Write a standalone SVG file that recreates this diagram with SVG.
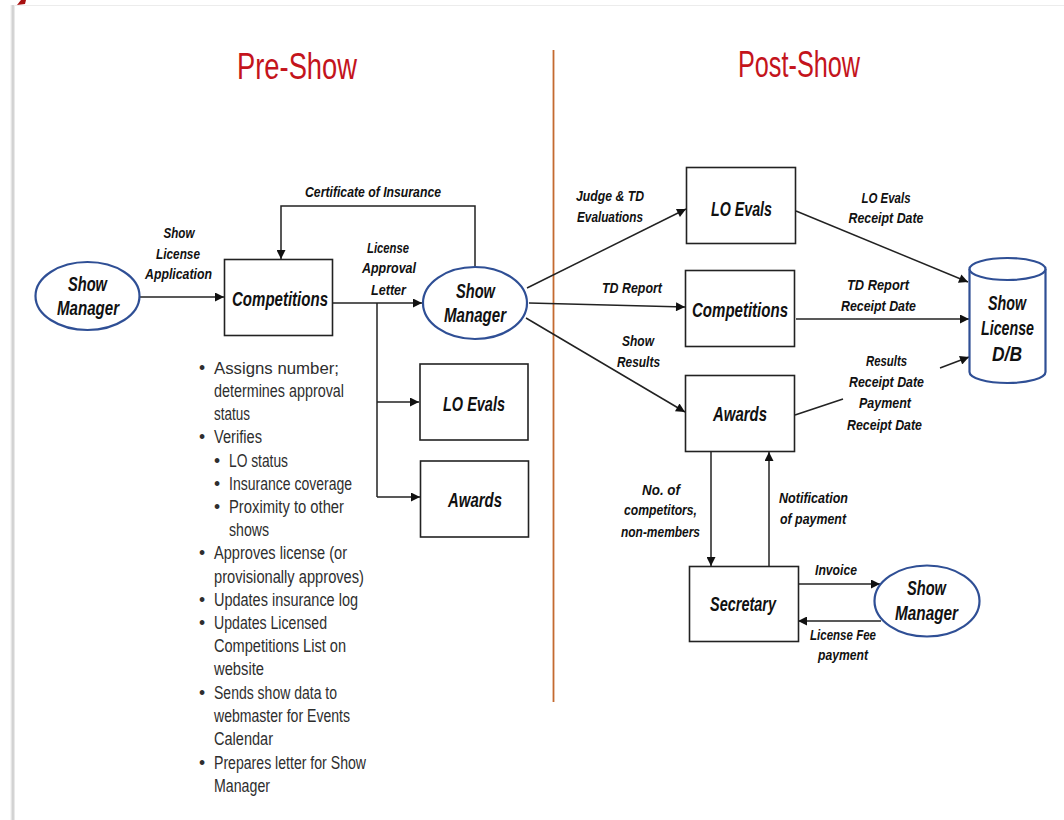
<svg xmlns="http://www.w3.org/2000/svg" width="1064" height="820" viewBox="0 0 1064 820">
<defs>
<marker id="ah" viewBox="0 0 10 10" refX="10" refY="5" markerWidth="11" markerHeight="9" markerUnits="userSpaceOnUse" orient="auto"><path d="M0,0 L10,5 L0,10 z" fill="#111"/></marker>
<linearGradient id="sh" x1="0" x2="1" y1="0" y2="0"><stop offset="0" stop-color="#fff"/><stop offset="0.6" stop-color="#c9c9c9"/><stop offset="1" stop-color="#f4f4f4"/></linearGradient>
</defs>
<style>
.box{fill:#fff;stroke:#222;stroke-width:1.6}
.ell{fill:#fff;stroke:#2f4f95;stroke-width:2.2}
.n{font-family:"Liberation Sans",Arial,sans-serif;font-weight:bold;font-style:italic;font-size:21px;fill:#111;text-anchor:middle}
.l{font-family:"Liberation Sans",Arial,sans-serif;font-weight:bold;font-style:italic;font-size:15px;fill:#111;text-anchor:middle}
.b{font-family:"Liberation Sans",Arial,sans-serif;font-size:17.5px;fill:#2e2e2e}
.t{font-family:"Liberation Sans",Arial,sans-serif;font-size:36px;fill:#c4141c;text-anchor:middle}
.c{fill:none;stroke:#222;stroke-width:1.5}
.a{marker-end:url(#ah)}
</style>
<rect width="1064" height="820" fill="#fff"/>
<rect x="10" y="5" width="5" height="815" fill="url(#sh)"/>
<line x1="14" y1="5.5" x2="1064" y2="5.5" stroke="#ececec" stroke-width="1"/>
<polygon points="17,5 21,0 26,0 25,4" fill="#a81010"/>

<g id="titles">
<text class="t" x="297" y="79" textLength="120" lengthAdjust="spacingAndGlyphs">Pre-Show</text>
<text class="t" x="799" y="77" textLength="122" lengthAdjust="spacingAndGlyphs">Post-Show</text>
<line x1="553.5" y1="50" x2="553.5" y2="702" stroke="#c46a30" stroke-width="1.8"/>
</g>

<g id="connectors">
<path class="c a" d="M139,297 L224,297"/>
<path class="c a" d="M475,267 L475,206 L281,206 L281,259"/>
<path class="c a" d="M332,303 L422,303"/>
<path class="c" d="M377,303 L377,497"/>
<path class="c a" d="M377,402 L419,402"/>
<path class="c a" d="M377,497 L420,497"/>
<path class="c a" d="M527,288 L686,209"/>
<path class="c a" d="M529,303 L685,307"/>
<path class="c a" d="M526,318 L685,412"/>
<path class="c a" d="M796,211 L968,282"/>
<path class="c a" d="M796,319 L969,319"/>
<path class="c" d="M795,415 L843,399"/>
<path class="c a" d="M940,368 L969,357"/>
<path class="c a" d="M711,451 L711,566"/>
<path class="c a" d="M769,566 L769,452"/>
<path class="c a" d="M798,584 L880,584"/>
<path class="c a" d="M881,621 L798,621"/>
</g>

<g id="edge-labels">
<text class="l" x="179" y="238" textLength="31" lengthAdjust="spacingAndGlyphs">Show</text>
<text class="l" x="178" y="259" textLength="44" lengthAdjust="spacingAndGlyphs">License</text>
<text class="l" x="178.5" y="279" textLength="67" lengthAdjust="spacingAndGlyphs">Application</text>
<text class="l" x="373" y="197" textLength="136" lengthAdjust="spacingAndGlyphs">Certificate of Insurance</text>
<text class="l" x="388" y="253" textLength="42" lengthAdjust="spacingAndGlyphs">License</text>
<text class="l" x="389" y="273" textLength="54" lengthAdjust="spacingAndGlyphs">Approval</text>
<text class="l" x="388.5" y="295" textLength="35" lengthAdjust="spacingAndGlyphs">Letter</text>
<text class="l" x="610" y="201" textLength="68" lengthAdjust="spacingAndGlyphs">Judge &amp; TD</text>
<text class="l" x="610" y="222" textLength="66" lengthAdjust="spacingAndGlyphs">Evaluations</text>
<text class="l" x="632" y="293" textLength="60" lengthAdjust="spacingAndGlyphs">TD Report</text>
<text class="l" x="638" y="346" textLength="32" lengthAdjust="spacingAndGlyphs">Show</text>
<text class="l" x="638.5" y="367" textLength="43" lengthAdjust="spacingAndGlyphs">Results</text>
<text class="l" x="886" y="203" textLength="49" lengthAdjust="spacingAndGlyphs">LO Evals</text>
<text class="l" x="886" y="223" textLength="75" lengthAdjust="spacingAndGlyphs">Receipt Date</text>
<text class="l" x="878" y="290" textLength="62" lengthAdjust="spacingAndGlyphs">TD Report</text>
<text class="l" x="878.5" y="311" textLength="75" lengthAdjust="spacingAndGlyphs">Receipt Date</text>
<text class="l" x="886.5" y="366" textLength="41" lengthAdjust="spacingAndGlyphs">Results</text>
<text class="l" x="886.5" y="387" textLength="75" lengthAdjust="spacingAndGlyphs">Receipt Date</text>
<text class="l" x="885" y="408" textLength="52" lengthAdjust="spacingAndGlyphs">Payment</text>
<text class="l" x="884.5" y="430" textLength="75" lengthAdjust="spacingAndGlyphs">Receipt Date</text>
<text class="l" x="661" y="495" textLength="38" lengthAdjust="spacingAndGlyphs">No. of</text>
<text class="l" x="660.5" y="515" textLength="73" lengthAdjust="spacingAndGlyphs">competitors,</text>
<text class="l" x="660.5" y="537" textLength="79" lengthAdjust="spacingAndGlyphs">non-members</text>
<text class="l" x="813.5" y="503" textLength="69" lengthAdjust="spacingAndGlyphs">Notification</text>
<text class="l" x="813" y="524" textLength="66" lengthAdjust="spacingAndGlyphs">of payment</text>
<text class="l" x="836" y="575" textLength="42" lengthAdjust="spacingAndGlyphs">Invoice</text>
<text class="l" x="843" y="640" textLength="66" lengthAdjust="spacingAndGlyphs">License Fee</text>
<text class="l" x="843" y="660" textLength="50" lengthAdjust="spacingAndGlyphs">payment</text>
</g>

<g id="show-manager-left">
<ellipse class="ell" cx="87.5" cy="296" rx="52" ry="34"/>
<text class="n" x="87.5" y="291" textLength="39" lengthAdjust="spacingAndGlyphs">Show</text>
<text class="n" x="88" y="315" textLength="62" lengthAdjust="spacingAndGlyphs">Manager</text>
</g>
<g id="competitions-left">
<rect class="box" x="224.5" y="259.5" width="108" height="76"/>
<text class="n" x="280" y="306" textLength="96" lengthAdjust="spacingAndGlyphs">Competitions</text>
</g>
<g id="show-manager-mid">
<ellipse class="ell" cx="475" cy="303" rx="52" ry="36"/>
<text class="n" x="475.5" y="298" textLength="39" lengthAdjust="spacingAndGlyphs">Show</text>
<text class="n" x="475" y="322" textLength="62" lengthAdjust="spacingAndGlyphs">Manager</text>
</g>
<g id="lo-evals-left">
<rect class="box" x="420" y="364" width="108" height="76"/>
<text class="n" x="474" y="411" textLength="62" lengthAdjust="spacingAndGlyphs">LO Evals</text>
</g>
<g id="awards-left">
<rect class="box" x="420.5" y="461" width="108" height="76"/>
<text class="n" x="475" y="507" textLength="54" lengthAdjust="spacingAndGlyphs">Awards</text>
</g>

<g id="notes">
<g class="b">
<text x="199" y="374">•</text><text x="214" y="374" font-size="16.8px">Assigns number;</text>
<text x="214" y="397" textLength="130" lengthAdjust="spacingAndGlyphs">determines approval</text>
<text x="214" y="420" textLength="36" lengthAdjust="spacingAndGlyphs">status</text>
<text x="199" y="443">•</text><text x="214" y="443" textLength="48" lengthAdjust="spacingAndGlyphs">Verifies</text>
<text x="214" y="467">•</text><text x="229" y="467" textLength="59" lengthAdjust="spacingAndGlyphs">LO status</text>
<text x="214" y="490">•</text><text x="229" y="490" textLength="123" lengthAdjust="spacingAndGlyphs">Insurance coverage</text>
<text x="214" y="513">•</text><text x="229" y="513" textLength="115" lengthAdjust="spacingAndGlyphs">Proximity to other</text>
<text x="229" y="536" textLength="40" lengthAdjust="spacingAndGlyphs">shows</text>
<text x="199" y="559">•</text><text x="214" y="559" textLength="133" lengthAdjust="spacingAndGlyphs">Approves license (or</text>
<text x="214" y="583" textLength="150" lengthAdjust="spacingAndGlyphs">provisionally approves)</text>
<text x="199" y="606">•</text><text x="214" y="606" textLength="144" lengthAdjust="spacingAndGlyphs">Updates insurance log</text>
<text x="199" y="629">•</text><text x="214" y="629" textLength="113" lengthAdjust="spacingAndGlyphs">Updates Licensed</text>
<text x="214" y="652" textLength="132" lengthAdjust="spacingAndGlyphs">Competitions List on</text>
<text x="214" y="675" textLength="50" lengthAdjust="spacingAndGlyphs">website</text>
<text x="199" y="699">•</text><text x="214" y="699" textLength="123" lengthAdjust="spacingAndGlyphs">Sends show data to</text>
<text x="214" y="722" textLength="136" lengthAdjust="spacingAndGlyphs">webmaster for Events</text>
<text x="214" y="745" textLength="59" lengthAdjust="spacingAndGlyphs">Calendar</text>
<text x="199" y="769">•</text><text x="214" y="769" textLength="152" lengthAdjust="spacingAndGlyphs">Prepares letter for Show</text>
<text x="214" y="792" textLength="56" lengthAdjust="spacingAndGlyphs">Manager</text>
</g>
</g>

<g id="lo-evals-right">
<rect class="box" x="686.5" y="167.5" width="109" height="76"/>
<text class="n" x="741.5" y="216" textLength="61" lengthAdjust="spacingAndGlyphs">LO Evals</text>
</g>
<g id="competitions-right">
<rect class="box" x="685.5" y="270.5" width="109" height="76"/>
<text class="n" x="740" y="317" textLength="96" lengthAdjust="spacingAndGlyphs">Competitions</text>
</g>
<g id="awards-right">
<rect class="box" x="685.5" y="375.5" width="109" height="76"/>
<text class="n" x="740" y="421" textLength="54" lengthAdjust="spacingAndGlyphs">Awards</text>
</g>
<g id="show-license-db">
<path class="ell" d="M969.5,269 L969.5,372 A38,11 0 0 0 1045.5,372 L1045.5,269"/>
<ellipse class="ell" cx="1007.5" cy="269" rx="38" ry="11"/>
<text class="n" x="1007" y="310" textLength="38" lengthAdjust="spacingAndGlyphs">Show</text>
<text class="n" x="1007.5" y="335" textLength="53" lengthAdjust="spacingAndGlyphs">License</text>
<text class="n" x="1007" y="361" textLength="30" lengthAdjust="spacingAndGlyphs">D/B</text>
</g>
<g id="secretary">
<rect class="box" x="689.5" y="566.5" width="109" height="75"/>
<text class="n" x="743" y="611" textLength="66" lengthAdjust="spacingAndGlyphs">Secretary</text>
</g>
<g id="show-manager-right">
<ellipse class="ell" cx="927" cy="601" rx="52.5" ry="35.5"/>
<text class="n" x="926.5" y="595" textLength="39" lengthAdjust="spacingAndGlyphs">Show</text>
<text class="n" x="926.5" y="620" textLength="63" lengthAdjust="spacingAndGlyphs">Manager</text>
</g>
</svg>
